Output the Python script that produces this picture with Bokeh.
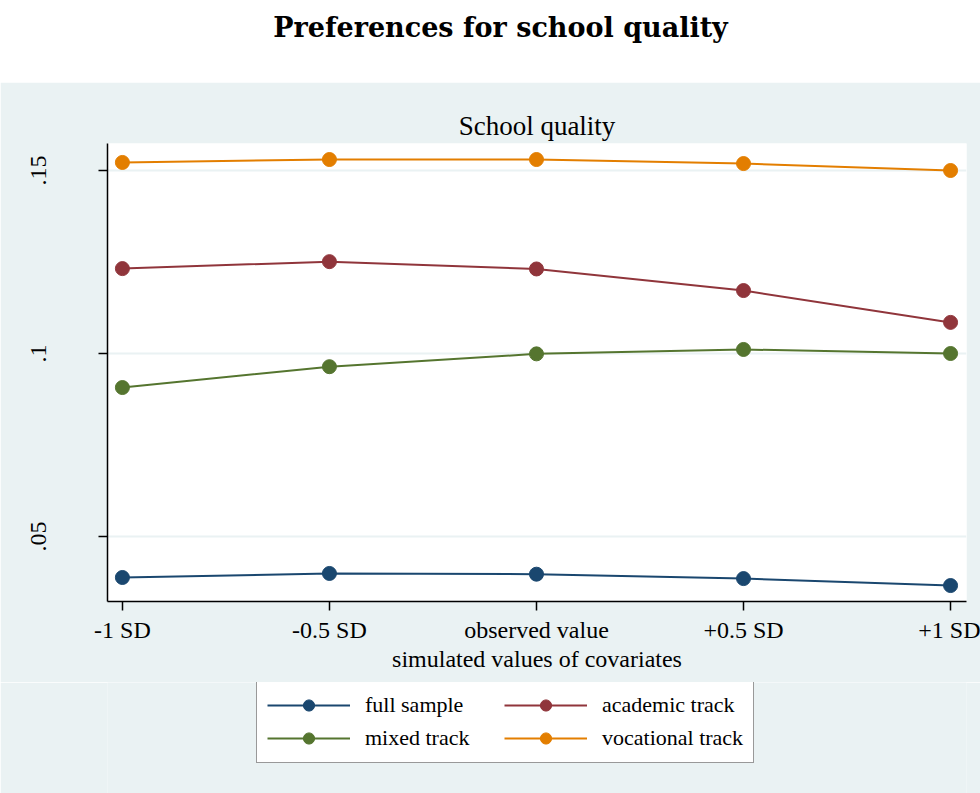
from bokeh.plotting import figure
from bokeh.models import FixedTicker, Legend, LegendItem, Label
from bokeh.layouts import column
from bokeh.embed import file_html
from bokeh.resources import INLINE

# ---- data ----
X_LABELS = ["-1 SD", "-0.5 SD", "observed value", "+0.5 SD", "+1 SD"]
X_POS = [0, 1, 2, 3, 4]
full_sample = [0.0388, 0.0399, 0.0397, 0.0385, 0.0366]
academic_track = [0.1232, 0.1251, 0.1231, 0.1172, 0.1085]
mixed_track = [0.0907, 0.0964, 0.0999, 0.1011, 0.1000]
vocational_track = [0.1522, 0.1530, 0.1530, 0.1519, 0.1500]
Y_TICKS = [0.05, 0.1, 0.15]
Y_TICK_LABELS = [".05", ".1", ".15"]

SERIES = [
    ("full sample", full_sample, "#1A476F"),
    ("academic track", academic_track, "#90353B"),
    ("mixed track", mixed_track, "#55752F"),
    ("vocational track", vocational_track, "#E37E00"),
]

BG = "#EAF2F3"
SERIF = "Liberation Serif"


def bare(fig, fill):
    fig.grid.visible = False
    fig.outline_line_color = None
    fig.background_fill_color = fill
    fig.border_fill_color = fill


# ---- top title band ----
top = figure(width=980, height=82, output_backend="svg", toolbar_location=None,
             x_axis_location=None, y_axis_location=None,
             min_border_left=0, min_border_right=0, min_border_top=0, min_border_bottom=0,
             x_range=(0, 1), y_range=(0, 1))
bare(top, "white")
# column layout aligns this frame with the main chart's frame (left edge at 107px)
top.add_layout(Label(x=393, y=55, x_units="screen", y_units="screen",
                     text="Preferences for school quality", text_align="center",
                     text_baseline="middle", text_font="DejaVu Serif",
                     text_font_style="bold", text_font_size="27px", text_color="black"))

# ---- main chart ----
p = figure(width=980, height=600, output_backend="svg", toolbar_location=None,
           x_range=(-0.072, 4.077), y_range=(0.03224, 0.15738),
           min_border_left=107, min_border_right=14, min_border_top=61, min_border_bottom=81)
p.background_fill_color = "white"
p.border_fill_color = BG
p.outline_line_color = None

p.title.text = "School quality"
p.title.text_font = SERIF
p.title.text_font_style = "normal"
p.title.text_font_size = "27px"
p.title.text_color = "black"
p.title.align = "center"
p.title.standoff = 6

p.xgrid.grid_line_color = None
p.ygrid.grid_line_color = BG
p.ygrid.grid_line_width = 2

p.xaxis.ticker = FixedTicker(ticks=X_POS)
p.xaxis.major_label_overrides = {x: l for x, l in zip(X_POS, X_LABELS)}
p.yaxis.ticker = FixedTicker(ticks=Y_TICKS)
p.yaxis.major_label_overrides = {t: l for t, l in zip(Y_TICKS, Y_TICK_LABELS)}
p.yaxis.major_label_orientation = "vertical"
p.xaxis.axis_label = "simulated values of covariates"

for ax in (p.xaxis[0], p.yaxis[0]):
    ax.axis_line_color = "black"
    ax.axis_line_width = 1.5
    ax.major_tick_line_color = "black"
    ax.major_tick_line_width = 1.5
    ax.major_tick_in = 0
    ax.major_tick_out = 9
    ax.minor_tick_line_color = None
    ax.major_label_text_font = SERIF
    ax.major_label_text_font_size = "24px"
    ax.major_label_text_color = "black"
    ax.axis_label_text_font = SERIF
    ax.axis_label_text_font_size = "24px"
    ax.axis_label_text_font_style = "normal"
    ax.axis_label_text_color = "black"

p.xaxis.major_label_standoff = 6
p.xaxis.axis_label_standoff = 0
p.yaxis.major_label_standoff = 52

for name, vals, color in SERIES:
    p.line(X_POS, vals, line_color=color, line_width=2)
    p.scatter(X_POS, vals, marker="circle", size=14, fill_color=color, line_color=color)

# ---- legend band (key glyphs come from the same series, kept out of view) ----
leg = figure(width=980, height=111, output_backend="svg", toolbar_location=None,
             x_axis_location=None, y_axis_location=None,
             min_border_left=0, min_border_right=0, min_border_top=0, min_border_bottom=0,
             x_range=(100, 101), y_range=(100, 101))
bare(leg, BG)
items = []
for name, vals, color in SERIES:
    lr = leg.line(X_POS, vals, line_color=color, line_width=2)
    sr = leg.scatter(X_POS, vals, marker="circle", size=14, fill_color=color, line_color=color)
    items.append(LegendItem(label=name, renderers=[lr, sr]))

legend = Legend(items=items, location=(149, 30), orientation="horizontal", ncols=2,
                glyph_width=83, glyph_height=28, label_standoff=15, label_width=134,
                spacing=5, padding=10, margin=0,
                label_text_font=SERIF, label_text_font_size="22px",
                label_text_color="black",
                border_line_color="#333333", border_line_width=1.5,
                background_fill_color="white", background_fill_alpha=1.0)
leg.add_layout(legend)

layout = column(top, p, leg, spacing=0)
open("out.html", "w").write(file_html(layout, INLINE))
